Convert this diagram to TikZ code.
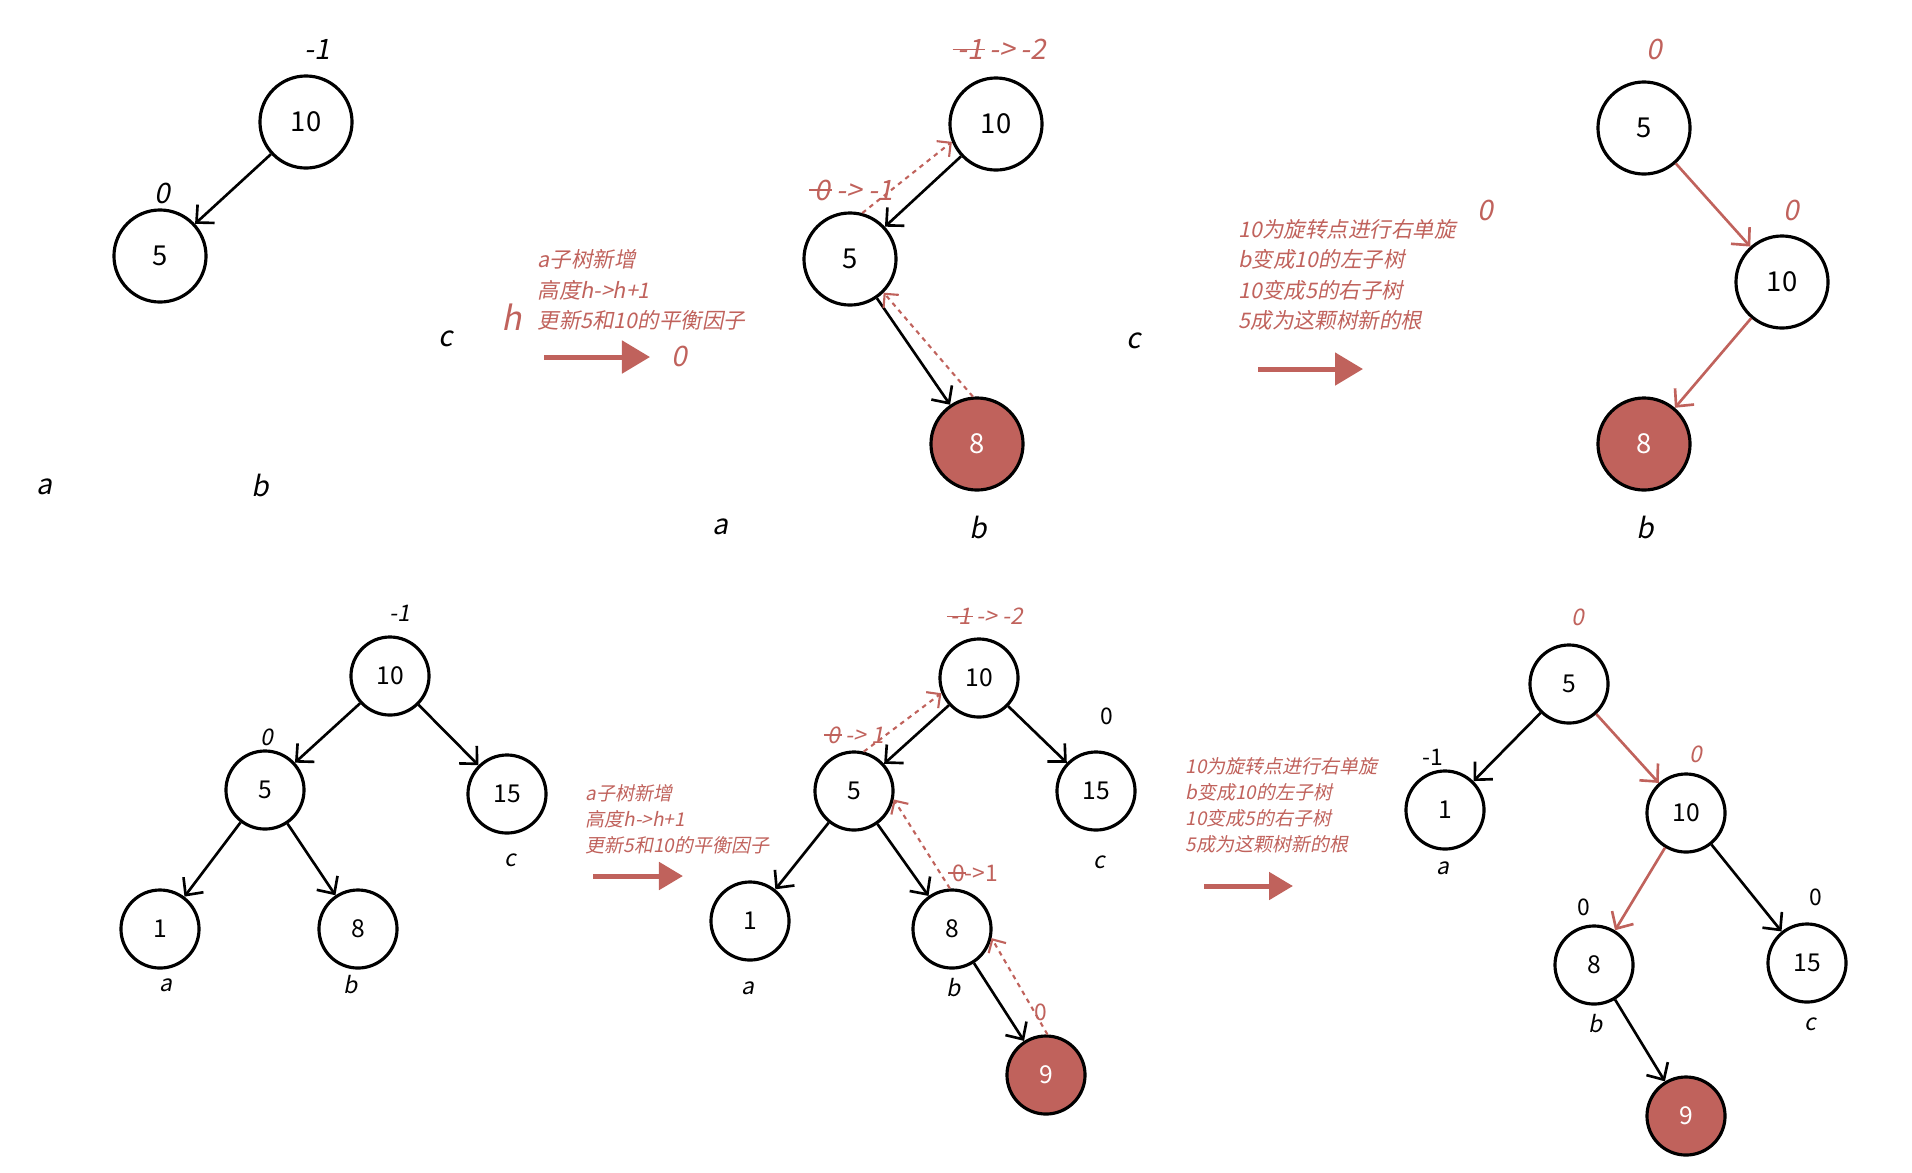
\documentclass[tikz,border=0pt]{standalone}
\usepackage{fontspec}
\setmainfont{Noto Sans CJK SC}
\newfontfamily\slantfont{Noto Sans CJK SC}[FakeSlant=0.2]
\usetikzlibrary{arrows.meta}
\definecolor{avlred}{RGB}{192,98,92}
\newsavebox\strkbox
\newcommand{\strk}[1]{\sbox\strkbox{#1}\rlap{\kern-0.18em\rule[0.32em]{\dimexpr\wd\strkbox+0.25em\relax}{0.06em}}\usebox\strkbox}

\begin{document}
\begin{tikzpicture}[x=0.01cm,y=-0.01cm,
  big/.style={circle,draw,line width=0.9pt,minimum size=0.92cm,inner sep=0pt,font=\fontsize{7.8}{9}\selectfont},
  small/.style={circle,draw,line width=0.9pt,minimum size=0.78cm,inner sep=0pt,font=\fontsize{7}{8}\selectfont},
  newnode/.style={fill=avlred,text=white},
  edge/.style={-{Straight Barb[length=1.3mm,width=2.5mm]},line width=0.75pt},
  redge/.style={edge,avlred},
  upd/.style={-{Straight Barb[length=1mm,width=2mm]},avlred,dash pattern=on 1.3pt off 1.3pt,line width=0.6pt},
  bigarrow/.style={-{Triangle[length=2.8mm,width=3.2mm]},avlred,line width=0.5mm},
  lbl/.style={inner sep=1pt,font=\slantfont\fontsize{8}{9}\selectfont},
  slbl/.style={inner sep=1pt,font=\slantfont\fontsize{6.5}{7.5}\selectfont},
  sup/.style={inner sep=1pt,font=\fontsize{6.5}{7.5}\selectfont},
  note/.style={anchor=west,align=left,inner sep=0pt,text=avlred,font=\slantfont\fontsize{6.1}{8.7}\selectfont},
  snote/.style={anchor=west,align=left,inner sep=0pt,text=avlred,font=\slantfont\fontsize{5.4}{7.4}\selectfont}]
  \useasboundingbox (0,0) rectangle (1912,1172);

  % top row, before insertion
  \node[big] (t1ten) at (306,122) {10};
  \node[big] (t1five) at (160,256) {5};
  \draw[edge] (t1ten) -- (t1five);
  \node[lbl] (t1bften) at (317,49) {-1};
  \node[lbl] (t1bffive) at (162,193) {0};
  \node[lbl] (t1a) at (44,487) {a};
  \node[lbl] (t1b) at (260,485) {b};
  \node[lbl] (t1c) at (446,339) {c};
  \node[lbl,text=avlred,font=\slantfont\fontsize{9.5}{10}\selectfont] (t1h) at (512,317) {h};
  \node[note] (t1note) at (537,290) {a子树新增\\高度h->h+1\\更新5和10的平衡因子};
  \coordinate (ar1s) at (544,357);
  \coordinate (ar1e) at (650,357);
  \draw[bigarrow] (ar1s) -- (ar1e);
  \node[lbl,text=avlred] (t1zero) at (679,356) {0};

  % top row, after insertion
  \node[big] (t2ten) at (996,124) {10};
  \node[big] (t2five) at (850,259) {5};
  \node[big,newnode] (t2eight) at (977,444) {8};
  \draw[edge] (t2ten) -- (t2five);
  \draw[edge] (t2five) -- (t2eight);
  \draw[upd] (t2five.75) -- (t2ten.202);
  \draw[upd] (t2eight.95) -- (t2five.-45);
  \node[lbl,text=avlred] (t2bften) at (1002,49) {\strk{-1} -> -2};
  \node[lbl,text=avlred] (t2bffive) at (854,190) {\strk{0} -> -1};
  \node[lbl] (t2a) at (720,527) {a};
  \node[lbl] (t2b) at (978,527) {b};
  \node[lbl] (t2c) at (1134,341) {c};
  \node[note] (t2note) at (1238,275) {10为旋转点进行右单旋\\b变成10的左子树\\10变成5的右子树\\5成为这颗树新的根};
  \node[lbl,text=avlred] (t2zero) at (1485,210) {0};
  \coordinate (ar2s) at (1258,369);
  \coordinate (ar2e) at (1363,369);
  \draw[bigarrow] (ar2s) -- (ar2e);

  % top row, rotated
  \node[big] (t3five) at (1644,128) {5};
  \node[big] (t3ten) at (1782,282) {10};
  \node[big,newnode] (t3eight) at (1644,444) {8};
  \draw[redge] (t3five) -- (t3ten);
  \draw[redge] (t3ten) -- (t3eight);
  \node[lbl,text=avlred] (t3bffive) at (1654,49) {0};
  \node[lbl,text=avlred] (t3bften) at (1791,210) {0};
  \node[lbl] (t3b) at (1645,527) {b};

  % bottom row, before insertion
  \node[small] (b1ten) at (390,676) {10};
  \node[small] (b1five) at (265,790) {5};
  \node[small] (b1fifteen) at (507,794) {15};
  \node[small] (b1one) at (160,929) {1};
  \node[small] (b1eight) at (358,929) {8};
  \draw[edge] (b1ten) -- (b1five);
  \draw[edge] (b1ten) -- (b1fifteen);
  \draw[edge] (b1five) -- (b1one);
  \draw[edge] (b1five) -- (b1eight);
  \node[slbl] (b1bften) at (400,613) {-1};
  \node[slbl] (b1bffive) at (267,737) {0};
  \node[slbl] (b1a) at (166,985) {a};
  \node[slbl] (b1b) at (351,985) {b};
  \node[slbl] (b1c) at (510,860) {c};
  \node[snote] (b1note) at (585,819) {a子树新增\\高度h->h+1\\更新5和10的平衡因子};
  \coordinate (ar3s) at (593,876);
  \coordinate (ar3e) at (683,876);
  \draw[bigarrow,-{Triangle[length=2.4mm,width=2.7mm]}] (ar3s) -- (ar3e);

  % bottom row, after insertion
  \node[small] (b2ten) at (979,678) {10};
  \node[small] (b2five) at (854,791) {5};
  \node[small] (b2fifteen) at (1096,791) {15};
  \node[small] (b2one) at (750,921) {1};
  \node[small] (b2eight) at (952,929) {8};
  \node[small,newnode] (b2nine) at (1046,1075) {9};
  \draw[edge] (b2ten) -- (b2five);
  \draw[edge] (b2ten) -- (b2fifteen);
  \draw[edge] (b2five) -- (b2one);
  \draw[edge] (b2five) -- (b2eight);
  \draw[edge] (b2eight) -- (b2nine);
  \draw[upd] (b2five.76) -- (b2ten.202);
  \draw[upd] (b2eight.93) -- (b2five.-12);
  \draw[upd] (b2nine.88) -- (b2eight.-13);
  \node[slbl,text=avlred] (b2bften) at (987,616) {\strk{-1} -> -2};
  \node[sup] (b2bffifteen) at (1107,716) {0};
  \node[slbl,text=avlred] (b2bffive) at (856,735) {\strk{0} -> 1};
  \node[sup,text=avlred] (b2bfeight) at (975,873) {\strk{0}->1};
  \node[sup,text=avlred] (b2bfnine) at (1041,1012) {0};
  \node[slbl] (b2a) at (748,988) {a};
  \node[slbl] (b2b) at (954,988) {b};
  \node[slbl] (b2c) at (1099,862) {c};
  \node[snote] (b2note) at (1185,805) {10为旋转点进行右单旋\\b变成10的左子树\\10变成5的右子树\\5成为这颗树新的根};
  \coordinate (ar4s) at (1204,886);
  \coordinate (ar4e) at (1293,886);
  \draw[bigarrow,-{Triangle[length=2.4mm,width=2.7mm]}] (ar4s) -- (ar4e);

  % bottom row, rotated
  \node[small] (b3five) at (1569,684) {5};
  \node[small] (b3one) at (1445,810) {1};
  \node[small] (b3ten) at (1686,813) {10};
  \node[small] (b3eight) at (1594,965) {8};
  \node[small] (b3fifteen) at (1807,963) {15};
  \node[small,newnode] (b3nine) at (1686,1116) {9};
  \draw[edge] (b3five) -- (b3one);
  \draw[redge] (b3five) -- (b3ten);
  \draw[redge] (b3ten) -- (b3eight);
  \draw[edge] (b3ten) -- (b3fifteen);
  \draw[edge] (b3eight) -- (b3nine);
  \node[slbl,text=avlred] (b3bffive) at (1578,617) {0};
  \node[sup] (b3bfone) at (1433,757) {-1};
  \node[slbl,text=avlred] (b3bften) at (1696,754) {0};
  \node[sup] (b3bfeight) at (1584,907) {0};
  \node[sup] (b3bffifteen) at (1816,897) {0};
  \node[slbl] (b3a) at (1443,868) {a};
  \node[slbl] (b3b) at (1596,1024) {b};
  \node[slbl] (b3c) at (1810,1024) {c};
\end{tikzpicture}
\end{document}
